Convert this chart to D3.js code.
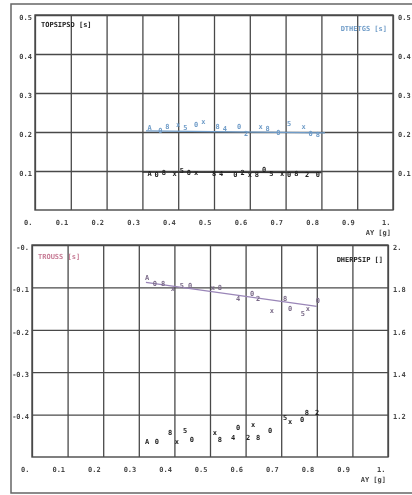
<!DOCTYPE html>
<html>
<head>
<meta charset="utf-8">
<script src="https://cdn.jsdelivr.net/npm/d3@7"></script>
<style>
  body { margin: 0; background: #fff; }
  svg { display: block; }
  text { font-family: "DejaVu Sans Mono", monospace; font-weight: bold; }
</style>
</head>
<body>
<div id="chart"></div>
<script>
// ---- data ----
const xTicks = [0, 0.1, 0.2, 0.3, 0.4, 0.5, 0.6, 0.7, 0.8, 0.9, 1.0];
const xTickLabels = ["0.", "0.1", "0.2", "0.3", "0.4", "0.5", "0.6", "0.7", "0.8", "0.9", "1."];

const topTicks = [0.1, 0.2, 0.3, 0.4, 0.5];
const topTickLabels = ["0.1", "0.2", "0.3", "0.4", "0.5"];

const botLeftTicks = [-0.4, -0.3, -0.2, -0.1, 0];
const botLeftLabels = ["-0.4", "-0.3", "-0.2", "-0.1", "-0."];
const botRightTicks = [1.2, 1.4, 1.6, 1.8, 2.0];
const botRightLabels = ["1.2", "1.4", "1.6", "1.8", "2."];

// top panel, blue series (near 0.2)
const blueX = [0.32, 0.35, 0.37, 0.40, 0.42, 0.45, 0.47, 0.51, 0.53, 0.57, 0.59, 0.63, 0.65, 0.68, 0.71, 0.75, 0.77, 0.79];
const blueY = [0.212, 0.205, 0.215, 0.218, 0.212, 0.22, 0.226, 0.215, 0.21, 0.214, 0.197, 0.213, 0.208, 0.199, 0.222, 0.214, 0.197, 0.193];
const blueFitX = [0.31, 0.81];
const blueFitY = [0.203, 0.198];

// top panel, black series (near 0.1)
const blackX = [0.32, 0.34, 0.36, 0.39, 0.41, 0.43, 0.45, 0.50, 0.52, 0.56, 0.58, 0.60, 0.62, 0.64, 0.66, 0.69, 0.71, 0.73, 0.76, 0.79];
const blackY = [0.094, 0.092, 0.096, 0.094, 0.1, 0.095, 0.096, 0.094, 0.093, 0.092, 0.095, 0.09, 0.092, 0.104, 0.094, 0.093, 0.092, 0.094, 0.092, 0.09];
const blackFitX = [0.30, 0.80];
const blackFitY = [0.097, 0.096];

// bottom panel, pink series (left axis)
const pinkX = [0.323, 0.345, 0.368, 0.396, 0.421, 0.444, 0.508, 0.528, 0.579, 0.618, 0.635, 0.674, 0.711, 0.725, 0.761, 0.775, 0.803];
const pinkY = [-0.076, -0.09, -0.09, -0.102, -0.095, -0.095, -0.1, -0.1, -0.126, -0.114, -0.126, -0.155, -0.126, -0.15, -0.162, -0.15, -0.131];
const pinkFitX = [0.32, 0.80];
const pinkFitY = [-0.088, -0.145];

// bottom panel, black series (right axis)
const lowX = [0.323, 0.351, 0.388, 0.407, 0.430, 0.449, 0.514, 0.528, 0.565, 0.579, 0.607, 0.621, 0.635, 0.669, 0.711, 0.725, 0.759, 0.772, 0.801];
const lowY = [1.075, 1.075, 1.113, 1.075, 1.127, 1.08, 1.113, 1.08, 1.094, 1.137, 1.09, 1.151, 1.094, 1.127, 1.184, 1.165, 1.175, 1.208, 1.212];

const glyphs = ["A", "0", "8", "x", "5", "0", "x", "8", "4", "0", "2", "x", "8", "0", "5", "x", "0", "8", "2", "0"];

// ---- layout ----
const width = 412, height = 495;
const gridColor = "#4a4a4a";
const blue = "#6f9cc8", pink = "#c77b95", purple = "#9a86b8";

const svg = d3.select("#chart").append("svg")
  .attr("width", width).attr("height", height);

svg.append("defs").append("filter").attr("id", "scan")
  .append("feGaussianBlur").attr("stdDeviation", 0.45);

const root = svg.append("g").attr("filter", "url(#scan)");

// outer frame
root.append("path")
  .attr("d", `M412,4 H11 V493 H412`)
  .attr("fill", "none").attr("stroke", "#666").attr("stroke-width", 1.5);

const drawPanel = (p) => {
  const x = d3.scaleLinear().domain([0, 1]).range([p.left, p.right]);
  const yL = d3.scaleLinear().domain(p.leftDomain).range([p.bottom, p.top]);
  const yR = d3.scaleLinear().domain(p.rightDomain).range([p.bottom, p.top]);
  const g = root.append("g");

  // vertical grid + x labels
  const xAxis = d3.axisBottom(x).tickValues(xTicks)
    .tickSize(-(p.bottom - p.top))
    .tickFormat((d, i) => xTickLabels[i]);
  const gx = g.append("g").attr("transform", `translate(0,${p.bottom})`).call(xAxis);
  gx.select(".domain").remove();
  gx.selectAll("line").attr("stroke", gridColor).attr("stroke-width", 1.3);
  gx.selectAll("text").attr("text-anchor", "end").attr("dx", "-3")
    .attr("y", 10).attr("font-size", 7).attr("fill", "#444");

  // horizontal grid + left labels
  const leftAxis = d3.axisLeft(yL).tickValues(p.leftTicks)
    .tickSize(-(p.right - p.left))
    .tickFormat((d, i) => p.leftLabels[i]);
  const gl = g.append("g").attr("transform", `translate(${p.left},0)`).call(leftAxis);
  gl.select(".domain").remove();
  gl.selectAll("line").attr("stroke", gridColor).attr("stroke-width", 1.3);
  gl.selectAll("text").attr("x", -3).attr("dy", "0.6em").attr("font-size", 7).attr("fill", "#444");

  // right labels
  const rightAxis = d3.axisRight(yR).tickValues(p.rightTicks)
    .tickSize(0)
    .tickFormat((d, i) => p.rightLabels[i]);
  const gr = g.append("g").attr("transform", `translate(${p.right},0)`).call(rightAxis);
  gr.select(".domain").remove();
  gr.selectAll("text").attr("x", 5).attr("dy", "0.6em").attr("font-size", 7).attr("fill", "#444");

  // plot box
  g.append("rect")
    .attr("x", p.left).attr("y", p.top)
    .attr("width", p.right - p.left).attr("height", p.bottom - p.top)
    .attr("fill", "none").attr("stroke", gridColor).attr("stroke-width", 1.4);

  // axis name
  g.append("text").text("AY [g]")
    .attr("x", p.right - 2).attr("y", p.bottom + 25)
    .attr("text-anchor", "end").attr("font-size", 7).attr("fill", "#444");

  return {g, x, yL, yR};
};

const drawSeries = (g, x, y, xs, ys, color) => {
  g.append("g").selectAll("text")
    .data(xs.map((d, i) => ({x: d, y: ys[i], s: glyphs[i % glyphs.length]})))
    .join("text")
      .attr("x", d => x(d.x))
      .attr("y", d => y(d.y))
      .attr("text-anchor", "middle")
      .attr("dy", "0.35em")
      .attr("font-size", 7)
      .attr("fill", color)
      .text(d => d.s);
};

const drawFit = (g, x, y, xs, ys, color) => {
  g.append("path")
    .datum(xs.map((d, i) => [d, ys[i]]))
    .attr("d", d3.line().x(d => x(d[0])).y(d => y(d[1])))
    .attr("fill", "none").attr("stroke", color).attr("stroke-width", 1.3);
};

// top panel
const topPanel = drawPanel({
  left: 35, right: 393, top: 15, bottom: 210,
  leftDomain: [0, 0.5], rightDomain: [0, 0.5],
  leftTicks: topTicks, leftLabels: topTickLabels,
  rightTicks: topTicks, rightLabels: topTickLabels
});
drawFit(topPanel.g, topPanel.x, topPanel.yL, blueFitX, blueFitY, blue);
drawSeries(topPanel.g, topPanel.x, topPanel.yL, blueX, blueY, blue);
drawFit(topPanel.g, topPanel.x, topPanel.yL, blackFitX, blackFitY, "#333");
drawSeries(topPanel.g, topPanel.x, topPanel.yL, blackX, blackY, "#222");

topPanel.g.append("text").text("TOPSIPSD [s]")
  .attr("x", 41).attr("y", 27).attr("font-size", 7).attr("fill", "#222");
topPanel.g.append("text").text("DTHETGS [s]")
  .attr("x", 387).attr("y", 31).attr("text-anchor", "end")
  .attr("font-size", 7).attr("font-weight", "normal").attr("fill", blue);

// bottom panel
const botPanel = drawPanel({
  left: 32, right: 388, top: 245, bottom: 457,
  leftDomain: [-0.5, 0], rightDomain: [1.0, 2.0],
  leftTicks: botLeftTicks, leftLabels: botLeftLabels,
  rightTicks: botRightTicks, rightLabels: botRightLabels
});
drawFit(botPanel.g, botPanel.x, botPanel.yL, pinkFitX, pinkFitY, purple);
drawSeries(botPanel.g, botPanel.x, botPanel.yL, pinkX, pinkY, "#7a6a88");
drawSeries(botPanel.g, botPanel.x, botPanel.yR, lowX, lowY, "#222");

botPanel.g.append("text").text("TROUSS [s]")
  .attr("x", 38).attr("y", 259).attr("font-size", 7)
  .attr("font-weight", "normal").attr("fill", pink);
botPanel.g.append("text").text("DHERPSIP []")
  .attr("x", 383).attr("y", 262).attr("text-anchor", "end")
  .attr("font-size", 7).attr("fill", "#222");
</script>
</body>
</html>
